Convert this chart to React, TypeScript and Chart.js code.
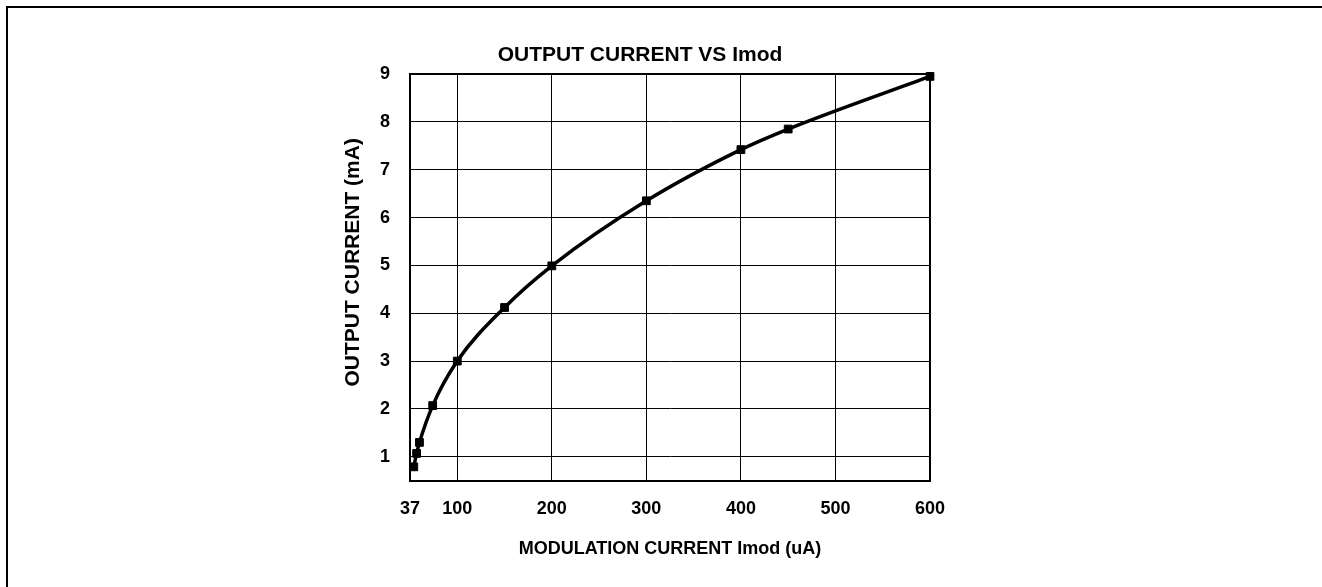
import React, { useEffect, useRef } from "react";
import { Chart, registerables } from "chart.js";

Chart.register(...registerables);

const imodUA = [54, 57, 60, 74, 100, 150, 200, 300, 400, 450, 600];
const outputMA = [0.79, 1.07, 1.3, 2.07, 3.0, 4.12, 4.99, 6.35, 7.42, 7.85, 8.95];
const xTickValues = [50, 100, 200, 300, 400, 500, 600];
const xTickLabels = ["37", "100", "200", "300", "400", "500", "600"];
const yTickValues = [1, 2, 3, 4, 5, 6, 7, 8, 9];
const chartTitle = "OUTPUT CURRENT VS Imod";
const xAxisTitle = "MODULATION CURRENT Imod (uA)";
const yAxisTitle = "OUTPUT CURRENT (mA)";

const FONT = "'Liberation Sans', Arial, Helvetica, sans-serif";

const yTitlePlugin = {
  id: "yTitlePlugin",
  afterDraw(chart: any) {
    const { ctx, chartArea } = chart;
    ctx.save();
    ctx.translate(chartArea.left - 57, (chartArea.top + chartArea.bottom) / 2 - 15);
    ctx.rotate(-Math.PI / 2);
    ctx.fillStyle = "#000";
    ctx.font = `bold 21px ${FONT}`;
    ctx.textAlign = "center";
    ctx.textBaseline = "middle";
    ctx.fillText(yAxisTitle, 0, 0);
    ctx.restore();
  },
};

export default function App() {
  const canvasRef = useRef<HTMLCanvasElement | null>(null);

  useEffect(() => {
    const canvas = canvasRef.current;
    if (!canvas) return;
    const chart = new Chart(canvas, {
      type: "scatter",
      data: {
        datasets: [
          {
            data: imodUA.map((x, i) => ({ x, y: outputMA[i] })),
            showLine: true,
            borderColor: "#000",
            borderWidth: 3.5,
            backgroundColor: "#000",
            pointStyle: "rect",
            pointRadius: 5.5,
            pointBorderWidth: 1,
            pointBorderColor: "#000",
            pointBackgroundColor: "#000",
            cubicInterpolationMode: "monotone",
            clip: 8,
          },
        ],
      },
      options: {
        responsive: false,
        animation: false,
        devicePixelRatio: 1,
        layout: { padding: { left: 20, right: 20, top: 0, bottom: 0 } },
        plugins: {
          legend: { display: false },
          tooltip: { enabled: false },
          title: {
            display: true,
            text: chartTitle,
            color: "#000",
            font: { family: FONT, size: 21, weight: "bold" },
            padding: { top: 43, bottom: 5.8 },
          },
        },
        scales: {
          x: {
            type: "linear",
            min: 50,
            max: 600,
            afterBuildTicks: (scale: any) => {
              scale.ticks = xTickValues.map((v) => ({ value: v }));
            },
            afterFit: (scale: any) => {
              scale.height = 106.3;
              scale.paddingLeft = 0;
              scale.paddingRight = 0;
            },
            ticks: {
              color: "#000",
              padding: 18,
              font: { family: FONT, size: 18, weight: "bold" },
              maxRotation: 0,
              autoSkip: false,
              callback: (_v: any, i: number) => xTickLabels[i],
            },
            grid: {
              color: "#000",
              lineWidth: (ctx: any) => (ctx.tick && ctx.tick.value === 600 ? 2 : 1),
              drawTicks: false,
            },
            border: { color: "#000", width: 2 },
            title: {
              display: true,
              text: xAxisTitle,
              color: "#000",
              font: { family: FONT, size: 18, weight: "bold" },
              padding: { top: 0, bottom: 27 },
            },
          },
          y: {
            type: "linear",
            min: 0.5,
            max: 9,
            afterBuildTicks: (scale: any) => {
              scale.ticks = yTickValues.map((v) => ({ value: v }));
            },
            afterFit: (scale: any) => {
              scale.width = 60;
              scale.paddingTop = 0;
              scale.paddingBottom = 0;
            },
            ticks: {
              color: "#000",
              padding: 20,
              font: { family: FONT, size: 18, weight: "bold" },
              autoSkip: false,
              callback: (v: any) => String(v),
            },
            grid: {
              color: "#000",
              lineWidth: (ctx: any) => (ctx.tick && ctx.tick.value === 9 ? 2 : 1),
              drawTicks: false,
            },
            border: { color: "#000", width: 2 },
            title: { display: false },
          },
        },
      },
      plugins: [yTitlePlugin],
    } as any);
    return () => chart.destroy();
  }, []);

  return (
    <div style={{ position: "absolute", left: 0, top: 0, width: 1322, height: 587, overflow: "hidden", background: "#fff" }}>
      <div
        style={{
          position: "absolute",
          left: 6,
          top: 6,
          width: 1400,
          height: 700,
          borderLeft: "2.5px solid #000",
          borderTop: "2.5px solid #000",
          boxSizing: "border-box",
        }}
      />
      <canvas
        ref={canvasRef}
        width={620}
        height={587}
        style={{ position: "absolute", left: 330, top: 0, width: 620, height: 587 }}
      />
    </div>
  );
}
